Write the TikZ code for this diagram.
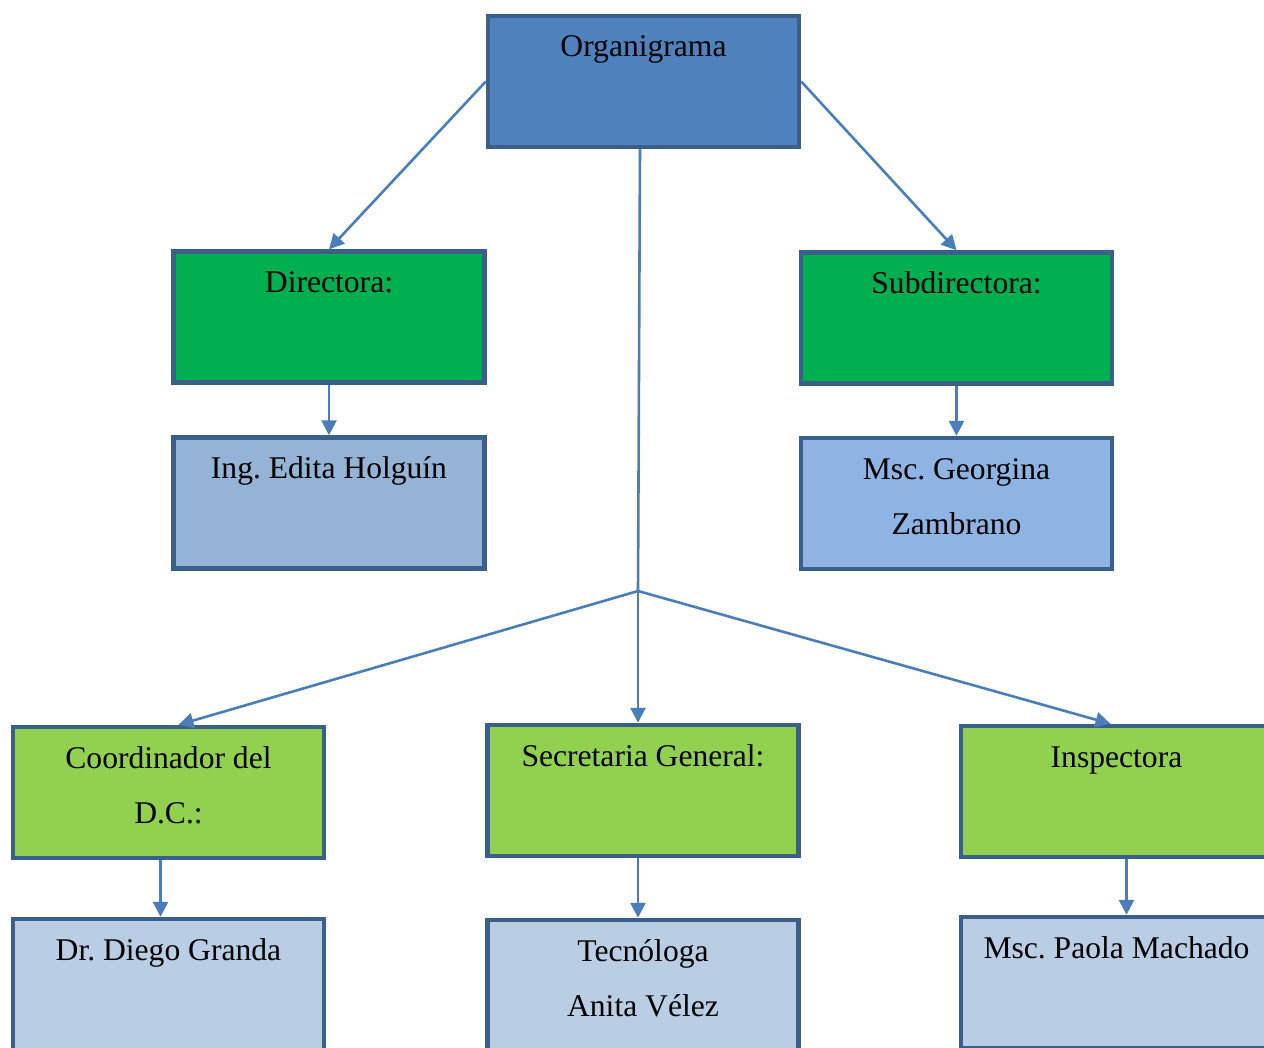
\documentclass[tikz,border=0pt]{standalone}
\usepackage{fontspec}
\setmainfont{Liberation Serif}
\usetikzlibrary{arrows.meta}
\definecolor{borde}{HTML}{3A5F8B}
\definecolor{flecha}{HTML}{4A7EBB}
\definecolor{azulorg}{HTML}{4F81BD}
\definecolor{verdedir}{HTML}{00B050}
\definecolor{verdeclaro}{HTML}{92D050}
\definecolor{azuling}{HTML}{95B3D7}
\definecolor{azulgeo}{HTML}{8DB4E2}
\definecolor{azulbajo}{HTML}{B9CDE5}
\frenchspacing
\newcommand{\cajatexto}[1]{\parbox[c][65.5pt][t]{155.5pt}{\centering\fontsize{15.8}{27.5}\selectfont\rule{0pt}{20.5pt}#1}}

\begin{document}
\begin{tikzpicture}
  [x=0.5pt,y=-0.5pt,
   caja/.style={rectangle,draw=borde,line width=2.2pt,inner sep=0pt},
   jefe/.style={caja,fill=azulorg},
   directivo/.style={caja,fill=verdedir},
   area/.style={caja,fill=verdeclaro},
   persona/.style={caja,fill=azulbajo},
   enlace/.style={draw=flecha,line width=1.3pt,-{Triangle[length=7.5pt,width=7.5pt]}}]
  \useasboundingbox (0,0) rectangle (1264,1048);
  \clip (0,0) rectangle (1264,1048);
  % primer nivel
  \node (org) [jefe] at (643.5,81.5) {\cajatexto{Organigrama}};
  % segundo nivel
  \node (dir) [directivo] at (329,317) {\cajatexto{Directora:}};
  \node (sub) [directivo] at (956.5,318) {\cajatexto{Subdirectora:}};
  \node (ing) [persona,fill=azuling] at (329,503) {\cajatexto{Ing. Edita Holguín}};
  \node (geo) [persona,fill=azulgeo] at (956.5,503.5) {\cajatexto{Msc. Georgina\\Zambrano}};
  % tercer nivel
  \node (coord) [area] at (168.5,792.5) {\cajatexto{Coordinador del\\D.C.:}};
  \node (sec) [area] at (643,790.5) {\cajatexto{Secretaria General:}};
  \node (insp) [area] at (1116.5,791.5) {\cajatexto{Inspectora}};
  \node (dr) [persona] at (168.5,984.5) {\cajatexto{Dr. Diego Granda}};
  \node (tec) [persona] at (643,985.5) {\cajatexto{Tecnóloga\\Anita Vélez}};
  \node (pao) [persona] at (1116.5,982.5) {\cajatexto{Msc. Paola Machado}};
  \coordinate (rama) at (638,591);
  % conectores
  \draw [enlace] (org.west) -- (dir.north);
  \draw [enlace] (org.east) -- (sub.north);
  \draw [enlace] (dir.south) -- (ing.north);
  \draw [enlace] (sub.south) -- (geo.north);
  \draw [draw=flecha,line width=1.3pt] (org.south -| 640,0) -- (rama);
  \draw [enlace] (rama) -- ([xshift=5pt]coord.north);
  \draw [enlace] (rama) -- (sec.north -| rama);
  \draw [enlace] (rama) -- ([xshift=-3pt]insp.north);
  \draw [enlace] ([xshift=-4pt]coord.south) -- ([xshift=-4pt]dr.north);
  \draw [enlace] (sec.south -| rama) -- (tec.north -| rama);
  \draw [enlace] ([xshift=5pt]insp.south) -- ([xshift=5pt]pao.north);
\end{tikzpicture}
\end{document}
